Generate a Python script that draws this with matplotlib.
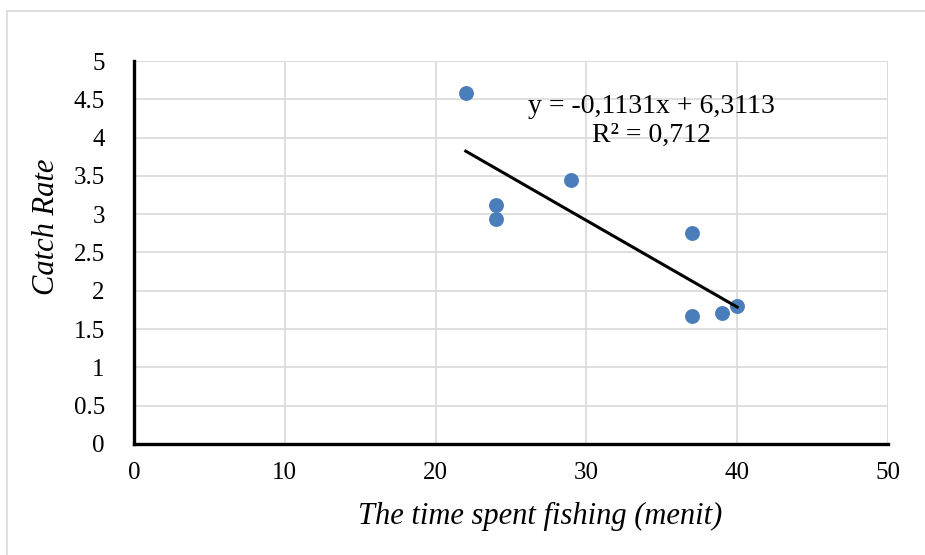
import numpy as np
import matplotlib.pyplot as plt
from matplotlib.lines import Line2D

# data
time_spent = [22, 24, 24, 29, 37, 37, 39, 40]
catch_rate = [4.58, 3.12, 2.94, 3.45, 2.75, 1.67, 1.71, 1.80]
trend_slope = -0.1131
trend_intercept = 6.3113
r_squared = "0,712"
x_ticks = [0, 10, 20, 30, 40, 50]
y_ticks = [0, 0.5, 1, 1.5, 2, 2.5, 3, 3.5, 4, 4.5, 5]

plt.rcParams["font.family"] = ["Liberation Serif", "DejaVu Serif"]

fig = plt.figure(figsize=(9.25, 5.55), dpi=100)
ax = fig.add_axes([134 / 925, 1 - 444 / 555, 754 / 925, 383 / 555])

# light frame round the chart area (top and left only visible)
fig.add_artist(Line2D([7 / 925, 1.0], [1 - 11 / 555] * 2, transform=fig.transFigure,
                      color="#d9d9d9", lw=1.2))
fig.add_artist(Line2D([7 / 925] * 2, [0.0, 1 - 11 / 555], transform=fig.transFigure,
                      color="#d9d9d9", lw=1.2))

ax.scatter(time_spent, catch_rate, s=115, color="#4a7ebb", zorder=3, linewidths=0)

xt = np.array([min(time_spent), max(time_spent)])
ax.plot(xt, trend_slope * xt + trend_intercept, color="black", lw=2.2, zorder=4)

eq = f"y = {trend_slope:.4f}x + {trend_intercept:.4f}".replace(".", ",")
ax.text(34.3, 4.22, eq + "\nR² = " + r_squared,
        ha="center", va="center", fontsize=20, linespacing=1.2, zorder=5)

ax.set_xlim(0, 50)
ax.set_ylim(0, 5)
ax.set_xticks(x_ticks)
ax.set_yticks(y_ticks)
ax.set_yticklabels([f"{v:g}" for v in y_ticks])
ax.grid(True, color="#d9d9d9", lw=1.2)
ax.set_axisbelow(True)

for side in ("top", "right"):
    ax.spines[side].set_visible(False)
for side in ("left", "bottom"):
    ax.spines[side].set_linewidth(2.4)
    ax.spines[side].set_color("black")

ax.tick_params(length=0, labelsize=18)
ax.tick_params(axis="x", pad=13)
ax.tick_params(axis="y", pad=21)

# right and top grid lines at the limits
ax.axvline(50, color="#d9d9d9", lw=1.2, zorder=0)
ax.axhline(5, color="#d9d9d9", lw=1.2, zorder=0)

ax.set_xlabel("The time spent fishing (menit)", fontsize=22, style="italic")
ax.xaxis.set_label_coords((540 - 134) / 754, -(502 - 444) / 383)
ax.set_ylabel("Catch Rate", fontsize=22, style="italic")
ax.yaxis.set_label_coords(-(134 - 61) / 754, (444 - 227) / 383)

fig.savefig("out.png", dpi=100)
